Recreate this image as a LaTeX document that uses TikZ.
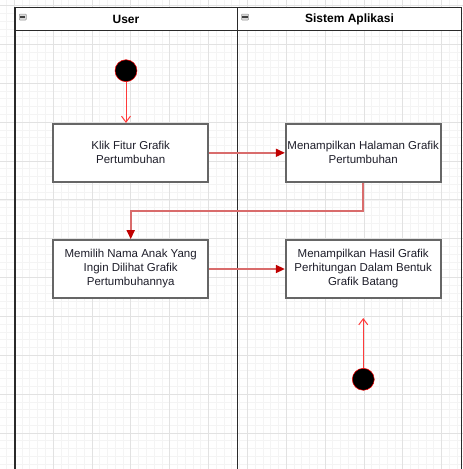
\documentclass[tikz,border=0pt]{standalone}
\usepackage{fontspec}
\setmainfont{Liberation Sans}
\usetikzlibrary{arrows.meta}
\definecolor{gridminor}{HTML}{F4F4F4}
\definecolor{gridmajor}{HTML}{E2E2E2}
\definecolor{lanecol}{HTML}{2A2A2A}
\definecolor{boxcol}{HTML}{666666}
\definecolor{flowcol}{HTML}{D96C6C}
\definecolor{tipcol}{HTML}{C00000}
\definecolor{startcol}{HTML}{FF3B3B}
\definecolor{txtcol}{HTML}{1E1E2A}
\tikzset{
  x=1pt, y=-1pt,
  lane/.style={draw=lanecol, line width=1.4pt},
  actbox/.style={draw=boxcol, line width=1.7pt, fill=white, minimum width=155pt, minimum height=58pt,
    align=center, inner sep=1pt, text=txtcol, font=\fontsize{11.5}{14}\selectfont},
  dot/.style={circle, fill=black, draw=red, line width=0.5pt, minimum size=22pt, inner sep=0pt},
  flow/.style={draw=flowcol, line width=1.6pt, -{Triangle[length=9pt,width=8pt,color=tipcol]}},
  startflow/.style={draw=startcol, line width=1pt, -{Straight Barb[length=6pt,width=9pt,line width=1pt]}},
  hdr/.style={font=\fontsize{12}{14}\selectfont\bfseries, text=black},
  collapse/.style={draw=gray!80, fill=gray!30, rounded corners=0.8pt, line width=0.5pt, minimum width=7pt, minimum height=6pt, inner sep=0pt}
}
\begin{document}
\begin{tikzpicture}
\useasboundingbox (0,0) rectangle (463,469);
\fill[white] (0,0) rectangle (463,469);
% background grid
\foreach \i in {-1,...,60} {
  \draw[gridminor, line width=0.5pt] (14.15+7.77*\i,0) -- (14.15+7.77*\i,469);
  \draw[gridminor, line width=0.5pt] (0,5.5+7.77*\i) -- (463,5.5+7.77*\i);
}
\foreach \i in {0,...,12} {
  \draw[gridmajor, line width=0.6pt] (14.15+38.85*\i,0) -- (14.15+38.85*\i,469);
  \draw[gridmajor, line width=0.6pt] (0,5.5+38.85*\i) -- (463,5.5+38.85*\i);
}
% swimlane headers
\fill[white] (15,7.3) rectangle (461.7,30.7);
\draw[lane] (15,475) -- (15,7.3) -- (461.7,7.3) -- (461.7,475);
\draw[lane] (237.3,7.3) -- (237.3,475);
\draw[lane] (15,30.7) -- (461.7,30.7);
\node[hdr] (huser) at (126,19.5) {User};
\node[hdr] (hsys) at (349.5,19.5) {Sistem Aplikasi};
\node[collapse] (c1) at (22.8,17) {};
\draw[black!75, line width=1.2pt] ([xshift=1.2pt]c1.west) -- ([xshift=-1.2pt]c1.east);
\node[collapse] (c2) at (245,17) {};
\draw[black!75, line width=1.2pt] ([xshift=1.2pt]c2.west) -- ([xshift=-1.2pt]c2.east);
% activities
\node[dot] (start) at (126,70.7) {};
\node[actbox] (a1) at (130.7,152.8) {Klik Fitur Grafik\\Pertumbuhan};
\node[actbox] (a2) at (363.2,152.8) {Menampilkan Halaman Grafik\\Pertumbuhan};
\node[actbox] (a3) at (130.7,269) {Memilih Nama Anak Yang\\Ingin Dilihat Grafik\\Pertumbuhannya};
\node[actbox] (a4) at (363.2,269) {Menampilkan Hasil Grafik\\Perhitungan Dalam Bentuk\\Grafik Batang};
\node[dot] (end) at (363.3,379.3) {};
\coordinate (tipend) at (363.3,318);
% connectors
\draw[startflow] (start.south) -- (start.south |- a1.north);
\draw[flow] (a1.east) -- (a2.west);
\draw[flow] (a2.south) |- (130.7,210.7) -- (a3.north);
\draw[flow] (a3.east) -- (a4.west);
\draw[startflow] (end.north) -- (tipend);
\end{tikzpicture}
\end{document}
